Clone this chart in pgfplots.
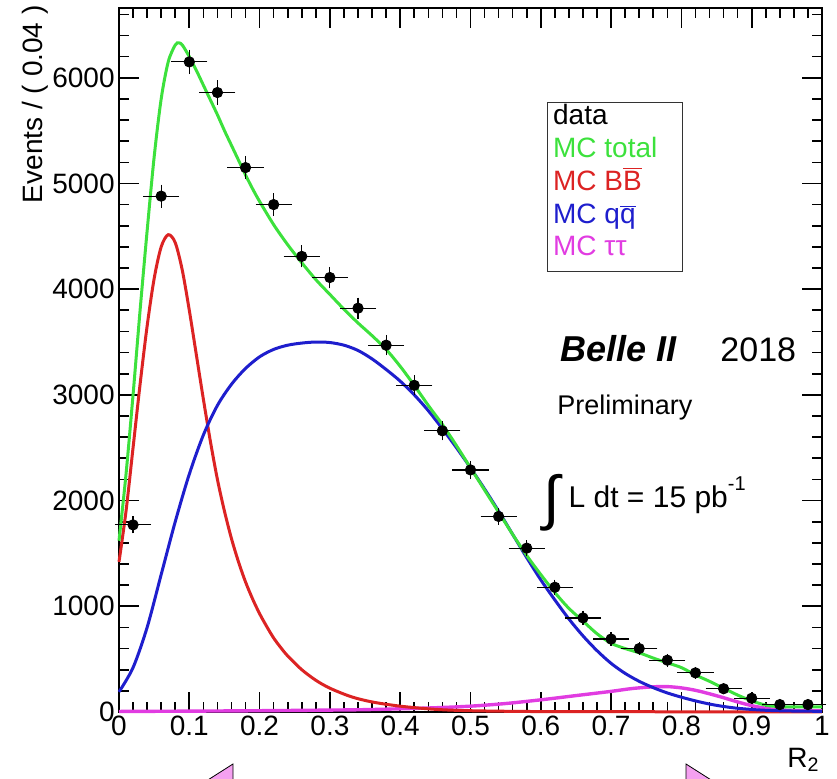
\documentclass[border=0pt]{standalone}
\usepackage{fontspec}
\setmainfont{Liberation Sans}
\usepackage{pgfplots}
\usepackage{pgfplotstable}
\pgfplotsset{compat=1.18}

\definecolor{mcgreen}{RGB}{60,225,60}
\definecolor{mcred}{RGB}{220,35,35}
\definecolor{mcblue}{RGB}{30,30,205}
\definecolor{mcmag}{RGB}{225,60,225}
\definecolor{navpink}{RGB}{245,160,240}

% data points: bin centre, events, half bin width, sqrt(N)
\pgfplotstableread{
x     y     ex    ey
0.02  1770  0.02  42
0.06  4880  0.02  70
0.10  6150  0.02  78
0.14  5860  0.02  77
0.18  5150  0.02  72
0.22  4800  0.02  69
0.26  4310  0.02  66
0.30  4110  0.02  64
0.34  3820  0.02  62
0.38  3470  0.02  59
0.42  3090  0.02  56
0.46  2660  0.02  52
0.50  2290  0.02  48
0.54  1850  0.02  43
0.58  1550  0.02  39
0.62  1180  0.02  34
0.66  890   0.02  30
0.70  690   0.02  26
0.74  600   0.02  24
0.78  490   0.02  22
0.82  370   0.02  19
0.86  220   0.02  15
0.90  130   0.02  11
0.94  70    0.02  8
0.98  70    0.02  8
}\datatab

\pgfplotstableread{
x     y
0.00  1620
0.01  2250
0.02  3000
0.03  3800
0.04  4550
0.05  5250
0.06  5800
0.07  6150
0.08  6310
0.085 6330
0.09  6310
0.10  6200
0.11  6070
0.12  5930
0.13  5790
0.14  5650
0.15  5500
0.16  5360
0.17  5220
0.18  5080
0.19  4950
0.20  4830
0.22  4610
0.24  4420
0.26  4250
0.28  4090
0.30  3950
0.32  3810
0.34  3680
0.36  3560
0.38  3430
0.40  3270
0.42  3090
0.44  2900
0.46  2720
0.48  2520
0.50  2310
0.52  2100
0.54  1890
0.56  1680
0.58  1480
0.60  1300
0.62  1130
0.64  980
0.66  860
0.68  740
0.70  650
0.72  600
0.74  560
0.76  510
0.78  465
0.80  420
0.82  350
0.84  290
0.86  225
0.88  160
0.90  105
0.92  65
0.94  50
0.97  48
1.00  48
}\totaltab

\pgfplotstableread{
x     y
0.00  1420
0.01  1900
0.02  2500
0.03  3100
0.04  3650
0.05  4100
0.06  4400
0.07  4515
0.08  4440
0.09  4180
0.10  3800
0.11  3380
0.12  2960
0.13  2560
0.14  2200
0.15  1900
0.16  1640
0.17  1420
0.18  1230
0.19  1070
0.20  930
0.21  810
0.22  700
0.23  610
0.24  530
0.26  400
0.28  300
0.30  225
0.33  145
0.36  95
0.40  55
0.45  25
0.50  12
0.60  4
0.80  2
1.00  1
}\bbtab

\pgfplotstableread{
x     y
0.00  190
0.02  420
0.04  800
0.06  1300
0.08  1800
0.10  2250
0.12  2620
0.14  2900
0.16  3100
0.18  3250
0.20  3360
0.22  3430
0.24  3470
0.26  3490
0.28  3500
0.30  3495
0.32  3470
0.34  3420
0.36  3340
0.38  3240
0.40  3130
0.42  3000
0.44  2850
0.46  2680
0.48  2500
0.50  2310
0.52  2110
0.54  1900
0.56  1680
0.58  1460
0.60  1250
0.62  1060
0.64  880
0.66  720
0.68  580
0.70  460
0.72  365
0.74  290
0.76  230
0.78  180
0.80  140
0.82  105
0.84  75
0.86  52
0.88  35
0.90  24
0.92  16
0.95  10
1.00  6
}\qqtab

\pgfplotstableread{
x     y
0.00  5
0.10  8
0.20  12
0.30  18
0.35  22
0.40  30
0.45  40
0.50  55
0.55  80
0.60  115
0.65  155
0.70  195
0.73  222
0.76  238
0.78  240
0.80  228
0.82  205
0.84  172
0.86  135
0.88  95
0.90  60
0.92  35
0.94  20
0.97  12
1.00  10
}\tautab

\begin{document}
\begin{tikzpicture}
\begin{axis}[
  scale only axis,
  width=351.5pt, height=352pt,
  xmin=0, xmax=1, ymin=0, ymax=6660,
  xtick={0,0.1,0.2,0.3,0.4,0.5,0.6,0.7,0.8,0.9,1},
  ytick={0,1000,2000,3000,4000,5000,6000},
  minor xtick={0.02,0.04,...,0.98},
  minor ytick={200,400,...,6600},
  xtick pos=both, ytick pos=both,
  tick align=inside,
  major tick length=10pt, minor tick length=5pt,
  axis line style={line width=0.8pt},
  major tick style={line width=0.8pt, black},
  minor tick style={line width=0.8pt, black},
  scaled y ticks=false,
  /pgf/number format/1000 sep={},
  /pgf/number format/assume math mode=true,
  tick label style={font=\fontsize{14}{14}\selectfont},
  yticklabel style={inner sep=2pt},
  xticklabel style={inner sep=2pt},
  clip=false,
]
\addplot[mcmag, line width=1.7pt, smooth] table[x=x,y=y] {\tautab};
\addplot[mcred, line width=1.5pt, smooth] table[x=x,y=y] {\bbtab};
\addplot[mcblue, line width=1.5pt, smooth] table[x=x,y=y] {\qqtab};
\addplot[mcgreen, line width=1.5pt, smooth] table[x=x,y=y] {\totaltab};
\addplot[only marks, mark=*, mark size=2.6pt, black,
  error bars/.cd, x dir=both, x explicit, y dir=both, y explicit,
  error bar style={line width=0.6pt, black},
  error mark options={black, mark size=2pt, line width=0.6pt}]
  table[x=x, y=y, x error=ex, y error=ey] {\datatab};

% legend box
\draw[line width=0.5pt, black!80] (axis cs:0.609,5762) rectangle (axis cs:0.802,4163);
\node[anchor=base west, inner sep=0, font=\fontsize{14}{14}\selectfont] at (axis cs:0.617,5554) {data};
\node[anchor=base west, inner sep=0, font=\fontsize{14}{14}\selectfont, text=mcgreen] at (axis cs:0.617,5241) {MC total};
\node[anchor=base west, inner sep=0, font=\fontsize{14}{14}\selectfont, text=mcred] at (axis cs:0.617,4929) {MC B$\overline{\mbox{B}}$};
\node[anchor=base west, inner sep=0, font=\fontsize{14}{14}\selectfont, text=mcblue] at (axis cs:0.617,4617) {MC q$\overline{\mbox{q}}$};
\node[anchor=base west, inner sep=0, font=\fontsize{14}{14}\selectfont, text=mcmag] at (axis cs:0.617,4314) {MC ττ};

% labels
\node[anchor=base west, inner sep=0, font=\fontsize{18}{18}\selectfont\bfseries\itshape] at (axis cs:0.627,3311) {Belle II};
\node[anchor=base west, inner sep=0, font=\fontsize{17}{17}\selectfont] at (axis cs:0.855,3311) {2018};
\node[anchor=base west, inner sep=0, font=\fontsize{13.5}{13.5}\selectfont] at (axis cs:0.623,2810) {Preliminary};
\node[anchor=base west, inner sep=0, font=\fontsize{30}{30}\selectfont] at (axis cs:0.603,1830) {∫};
\node[anchor=base west, inner sep=0, font=\fontsize{15}{15}\selectfont] at (axis cs:0.639,1930) {L dt = 15 pb\raisebox{1.1ex}{\fontsize{10}{10}\selectfont -1}};
\end{axis}

% axis titles
\node[rotate=90, anchor=east, inner sep=0, font=\fontsize{14}{14}\selectfont] at (-42pt,353.5pt) {Events / ( 0.04 )};
\node[anchor=north east, inner sep=0, font=\fontsize{14}{14}\selectfont] at (350.5pt,-18pt) {R\textsubscript{2}};

% slide navigation arrows cut by the lower edge
\fill[navpink, draw=black, line width=0.4pt] (57pt,-26pt) -- (57pt,-40pt) -- (35pt,-40pt) -- cycle;
\fill[navpink, draw=black, line width=0.4pt] (283.5pt,-26pt) -- (283.5pt,-40pt) -- (305.5pt,-40pt) -- cycle;

\pgfresetboundingbox
\path[use as bounding box] (-59.5pt,-33.5pt) rectangle (359pt,356pt);
\end{tikzpicture}
\end{document}
